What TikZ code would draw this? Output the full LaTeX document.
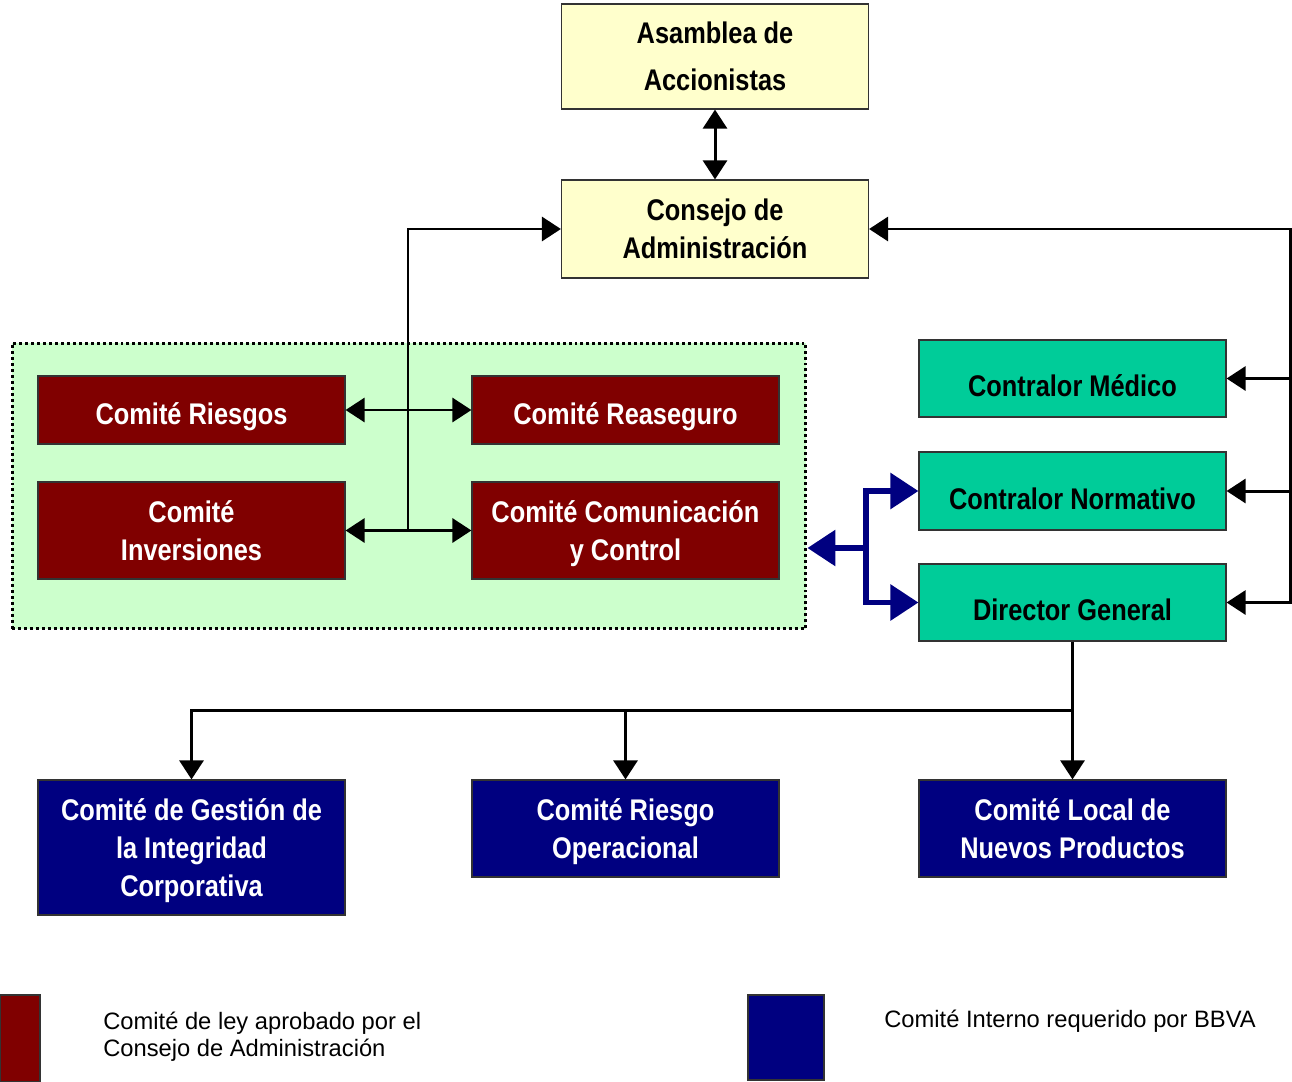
\documentclass[tikz,border=0pt]{standalone}
\usepackage{fontspec}
\setmainfont{Liberation Sans}
\newfontfamily\narrowfont[FakeStretch=0.85]{Liberation Sans}
\usetikzlibrary{arrows.meta}

\definecolor{amarillo}{HTML}{FFFFCC}
\definecolor{verdeclaro}{HTML}{CCFFCC}
\definecolor{granate}{HTML}{800000}
\definecolor{turquesa}{HTML}{00CC99}
\definecolor{marino}{HTML}{000080}

\begin{document}
\begin{tikzpicture}[%
    x=0.02cm, y=-0.02cm,
    caja/.style={
      rectangle,
      draw=black!80,
      line width=0.7pt,
      align=center,
      inner sep=0pt,
      minimum width=6.14cm,
      font=\narrowfont\bfseries\fontsize{17}{21.5}\selectfont
    },
    junta/.style={
      caja,
      fill=amarillo,
      text=black
    },
    comite/.style={
      caja,
      fill=granate,
      text=white
    },
    contralor/.style={
      caja,
      fill=turquesa,
      text=black,
      text height=0.72cm,
      text depth=0pt
    },
    interno/.style={
      caja,
      fill=marino,
      text=white
    },
    linea/.style={
      draw,
      line width=1.7pt,
      arrows={-Triangle[length=0.38cm,width=0.48cm]}
    },
    lineadoble/.style={
      draw,
      line width=1.7pt,
      arrows={Triangle[length=0.38cm,width=0.48cm]-Triangle[length=0.38cm,width=0.48cm]}
    },
    azul/.style={
      draw=marino,
      line width=3.4pt,
      line join=miter,
      arrows={Triangle[length=0.56cm,width=0.7cm]-Triangle[length=0.56cm,width=0.7cm]}
    },
    leyenda/.style={
      anchor=base west,
      inner sep=0pt,
      align=left,
      font=\fontsize{13.5}{15.3}\selectfont
    }
  ]
    \useasboundingbox (0,0) rectangle (1292,1082);

    % zona de comites de ley
    \draw (409,486) node[
      rectangle,
      fill=verdeclaro,
      draw=black,
      line width=1.7pt,
      dash pattern=on 1.7pt off 1.7pt,
      minimum width=15.88cm,
      minimum height=5.72cm
    ] (zona) {};

    \draw (715,56.5) node[junta, minimum height=2.1cm, text depth=0pt,
      font=\narrowfont\bfseries\fontsize{17}{26.6}\selectfont] (asamblea) {Asamblea de\\Accionistas};
    \draw (715,229) node[junta, minimum height=1.96cm] (consejo) {Consejo de\\Administración};

    \draw (191.5,410) node[comite, minimum height=1.36cm, text height=0.59cm, text depth=0pt] (riesgos) {Comité Riesgos};
    \draw (625.5,410) node[comite, minimum height=1.36cm, text height=0.59cm, text depth=0pt] (reaseguro) {Comité Reaseguro};
    \draw (191.5,530.5) node[comite, minimum height=1.94cm] (inversiones) {Comité\\Inversiones};
    \draw (625.5,530.5) node[comite, minimum height=1.94cm, text depth=0pt] (comunicacion) {Comité Comunicación\\y Control};

    \draw (1072.5,378.5) node[contralor, minimum height=1.54cm] (medico) {Contralor Médico};
    \draw (1072.5,491) node[contralor, minimum height=1.56cm] (normativo) {Contralor Normativo};
    \draw (1072.5,602.5) node[contralor, minimum height=1.54cm] (director) {Director General};

    \draw (191.5,847.5) node[interno, minimum height=2.7cm, text depth=0pt] (gestion) {Comité de Gestión de\\la Integridad\\Corporativa};
    \draw (625.5,828.5) node[interno, minimum height=1.94cm, text depth=0pt] (operacional) {Comité Riesgo\\Operacional};
    \draw (1072.5,828.5) node[interno, minimum height=1.94cm] (local) {Comité Local de\\Nuevos Productos};

    % conexiones
    \coordinate (ramal) at (408,530.5);
    \coordinate (esquina) at (1290,229);
    \coordinate (nodo) at (866,548);
    \coordinate (reparto) at (1072.5,710);

    \draw[lineadoble] (asamblea.south) -- (consejo.north);
    \draw[linea] (ramal) |- (consejo.west);
    \draw[lineadoble] (riesgos) -- (reaseguro);
    \draw[lineadoble] (inversiones) -- (comunicacion);

    \draw[lineadoble] (consejo.east) -- (esquina) |- (director.east);
    \draw[linea] (esquina |- medico.east) -- (medico.east);
    \draw[linea] (esquina |- normativo.east) -- (normativo.east);

    \draw[azul] (normativo.west) -| (nodo) |- (director.west);
    \draw[azul, arrows={-Triangle[length=0.56cm,width=0.7cm]}] (nodo) -- (nodo -| zona.east);

    \draw[linea] (director.south) -- (local.north);
    \draw[linea] (reparto) -| (gestion.north);
    \draw[linea] (operacional.north |- reparto) -- (operacional.north);

    % leyenda
    \fill[granate, draw=black!80, line width=0.7pt] (0,995) rectangle (40,1082);
    \draw (103,1056) node[leyenda] (leyley) {Comité de ley aprobado por el\\Consejo de Administración};
    \fill[marino, draw=black!80, line width=0.7pt] (748,995) rectangle (824,1080);
    \draw (884,1027) node[leyenda] (leybbva) {Comité Interno requerido por BBVA};
  \end{tikzpicture}
\end{document}
